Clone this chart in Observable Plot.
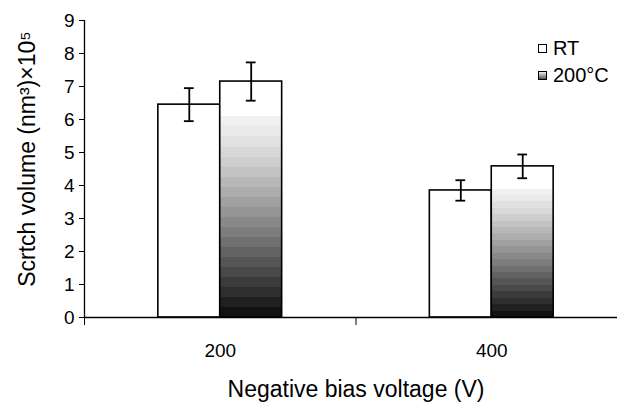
<!DOCTYPE html>
<html><head><meta charset="utf-8">
<script src="https://cdn.jsdelivr.net/npm/d3@7"></script>
<script src="https://cdn.jsdelivr.net/npm/@observablehq/plot@0.6"></script>
<style>
html,body{margin:0;padding:0;background:#fff;overflow:hidden;}
#wrap{position:relative;width:617px;height:403px;}
.lg{position:absolute;font-family:"Liberation Sans",Arial,sans-serif;font-size:20px;line-height:20px;color:#000;white-space:nowrap;}
.sw{position:absolute;width:7px;height:7px;border:1px solid #000;box-sizing:content-box;}
</style></head><body><div id="wrap"></div>
<script>
// ---- data ----
const voltages = ["200", "400"];
const seriesNames = ["RT", "200°C"];
const rtValues = [6.45, 3.85];
const rtErrors = [0.5, 0.31];
const hotValues = [7.15, 4.58];
const hotErrors = [0.58, 0.36];
const yTicks = [0, 1, 2, 3, 4, 5, 6, 7, 8, 9];
const xLabel = "Negative bias voltage (V)";
const yLabel = "Scrtch volume (nm³)×10⁵";

// ---- layout helpers ----
const barHalf = 0.228;   // width of one bar in group units
const cap = 0.018;       // half width of error caps in group units
const rows = [];
voltages.forEach((v, i) => {
  const c = i + 0.5;
  rows.push({voltage: v, series: seriesNames[0], value: rtValues[i], err: rtErrors[i], x1: c - barHalf, x2: c});
  rows.push({voltage: v, series: seriesNames[1], value: hotValues[i], err: hotErrors[i], x1: c, x2: c + barHalf});
});
rows.forEach(r => r.cx = (r.x1 + r.x2) / 2);
const rtRows = rows.filter(r => r.series === seriesNames[0]);
const hotRows = rows.filter(r => r.series === seriesNames[1]);
const labelRows = voltages.map((v, i) => ({v, x: i + 0.5}));

const font = "Liberation Sans, Arial, sans-serif";
const plot = Plot.plot({
  width: 617, height: 403,
  marginLeft: 84, marginRight: 0, marginTop: 20, marginBottom: 86,
  style: {fontFamily: font, fontSize: "19px", background: "#fff", color: "#000", overflow: "hidden"},
  x: {domain: [0, voltages.length], range: [84, 627]},
  y: {domain: [0, 9]},
  marks: [
    Plot.rectY(rtRows, {x1: "x1", x2: "x2", y1: 0, y2: "value", fill: "white", stroke: "#000", strokeWidth: 1.6}),
    Plot.rectY(hotRows, {x1: "x1", x2: "x2", y1: 0, y2: "value", fill: "url(#hotgrad)", stroke: "#000", strokeWidth: 1.6}),
    Plot.ruleX(rows, {x: "cx", y1: d => d.value - d.err, y2: d => d.value + d.err, stroke: "#000", strokeWidth: 1.8}),
    Plot.ruleY(rows, {y: d => d.value + d.err, x1: d => d.cx - cap, x2: d => d.cx + cap, stroke: "#000", strokeWidth: 1.8}),
    Plot.ruleY(rows, {y: d => d.value - d.err, x1: d => d.cx - cap, x2: d => d.cx + cap, stroke: "#000", strokeWidth: 1.8}),
    Plot.ruleX([0], {stroke: "#000", strokeWidth: 1.3}),
    Plot.ruleY([0], {stroke: "#000", strokeWidth: 1.3}),
    Plot.axisY({ticks: yTicks, tickSize: 5, tickPadding: 5, label: null, fontSize: 19, tickFormat: d => String(d)}),
    Plot.axisX({ticks: d3.range(0, voltages.length + 1), tickSize: 8, tickFormat: () => "", label: null}),
    Plot.text(labelRows, {x: "x", text: "v", frameAnchor: "bottom", dy: 33, fontSize: 19, lineAnchor: "middle"}),
    Plot.text([xLabel], {x: () => voltages.length / 2, frameAnchor: "bottom", dy: 72, fontSize: 23, lineAnchor: "middle"}),
    Plot.text([yLabel], {frameAnchor: "left", rotate: -90, dx: -57, dy: -10, fontSize: 23, textAnchor: "middle", lineAnchor: "middle"})
  ]
});

// stepped white-to-black gradient (Excel style)
const svg = d3.select(plot.tagName.toLowerCase() === "svg" ? plot : plot.querySelector("svg"));
const defs = svg.insert("defs", ":first-child");
const grad = defs.append("linearGradient").attr("id", "hotgrad").attr("x1", 0).attr("y1", 0).attr("x2", 0).attr("y2", 1);
const steps = 20, start = 0.15;
grad.append("stop").attr("offset", 0).attr("stop-color", "#fff");
grad.append("stop").attr("offset", start).attr("stop-color", "#fff");
for (let k = 0; k < steps; k++) {
  const t = k / (steps - 1);
  const g = Math.round(240 - 222 * Math.pow(t, 1.2));
  const c = `rgb(${g},${g},${g})`;
  const o0 = start + (1 - start) * k / steps, o1 = start + (1 - start) * (k + 1) / steps;
  grad.append("stop").attr("offset", o0).attr("stop-color", c);
  grad.append("stop").attr("offset", o1).attr("stop-color", c);
}

const wrap = document.getElementById("wrap");
wrap.appendChild(plot);

// legend
const legendItems = [
  {name: seriesNames[0], bg: "#fff", top: 44},
  {name: seriesNames[1], bg: "linear-gradient(#f0f0f0, #555)", top: 71}
];
legendItems.forEach(it => {
  const sw = document.createElement("div");
  sw.className = "sw";
  sw.style.left = "538px"; sw.style.top = it.top + "px"; sw.style.background = it.bg;
  wrap.appendChild(sw);
  const t = document.createElement("div");
  t.className = "lg";
  t.style.left = "553px"; t.style.top = (it.top - 6) + "px";
  t.textContent = it.name;
  wrap.appendChild(t);
});
</script></body></html>
